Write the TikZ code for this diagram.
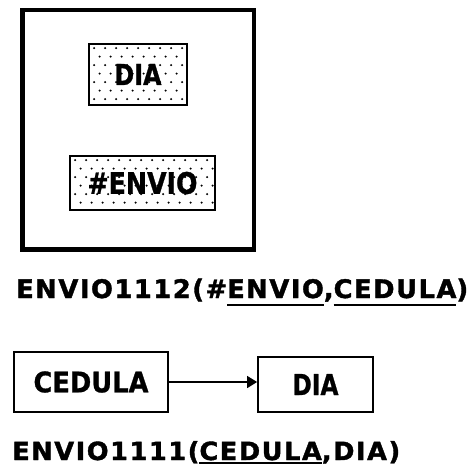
\documentclass[tikz,border=0pt]{standalone}
\usepackage{fontspec}
\setmainfont{DejaVu Sans}
\newfontfamily\relfont[LetterSpace=6,FakeBold=1.5]{DejaVu Sans Bold}
\newfontfamily\boxfont[FakeBold=1]{DejaVu Sans Bold}
\usetikzlibrary{arrows.meta,calc}
\newcommand\myul[2]{\setbox0\hbox{#2}\rlap{\rule[-#1]{\wd0}{2pt}}\box0}
\tikzset{
  dotbox/.style={draw=black, line width=1.8pt, inner sep=0pt},
  plainbox/.style={draw=black, line width=1.8pt, inner sep=0pt},
  reltext/.style={inner sep=0pt, anchor=base west},
  conn/.style={line width=1.6pt, -{Triangle[length=10pt,width=12pt]}},
}
\begin{document}
\begin{tikzpicture}[x=1pt,y=-1pt]
\useasboundingbox (0,0) rectangle (476,473);
% outer frame
\draw[line width=4.8pt] (22.5,10) rectangle (254,249.5);
% dotted boxes
\node[dotbox, minimum width=98pt, minimum height=61pt] (dia1) at (138,74.5) {};
\node[dotbox, minimum width=145pt, minimum height=54pt] (envio1) at (142.5,183) {};
\foreach \n in {dia1,envio1}{
  \begin{scope}
    \clip (\n.south west) rectangle (\n.north east);
    \foreach \r in {0,...,8}{
      \pgfmathsetmacro\off{mod(\r,2)*5.5}
      \foreach \c in {0,...,15}{
        \fill ($(\n.north west)+(\c*11+\off+6,\r*8.5+5)$) circle (1.15pt);
      }
    }
  \end{scope}
}
\node[inner sep=0pt] (dia1t) at (dia1.center) {\resizebox{47pt}{21pt}{\boxfont DIA}};
\node[inner sep=0pt] (envio1t) at (envio1.center) {\resizebox{110pt}{22pt}{\boxfont\#ENVIO}};
% relation texts
\node[reltext] (r1) at (16,298) {\resizebox{452pt}{\height}{\fontsize{25.5}{28}\relfont ENVIO1112(\#\myul{8pt}{ENVIO},\myul{8pt}{CEDULA})}};
\node[reltext] (r2) at (12,460) {\resizebox{388pt}{\height}{\fontsize{25}{28}\relfont ENVIO1111(\myul{4pt}{CEDULA},DIA)}};
% dependency boxes
\node[plainbox, minimum width=154pt, minimum height=60pt] (ced) at (91,382) {\resizebox{115pt}{21pt}{\boxfont CEDULA}};
\node[plainbox, minimum width=115pt, minimum height=55pt] (dia2) at (315.5,384.5) {\resizebox{46pt}{21pt}{\boxfont DIA}};
\draw[conn] (ced.east |- 0,382) -- (dia2.west |- 0,382);
\end{tikzpicture}
\end{document}
